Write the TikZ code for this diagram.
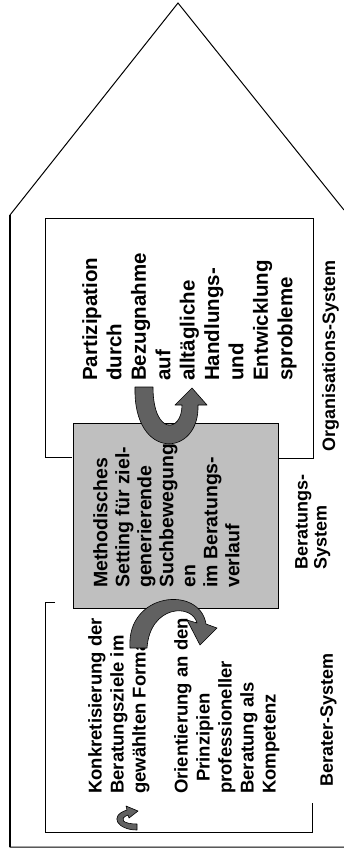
\documentclass[tikz,border=0pt]{standalone}
\usepackage{fontspec}
\setmainfont{Liberation Sans}
\tikzset{
  uptext/.style 2 args={rotate=90, anchor=north west, align=left, inner sep=0pt,
    font=\bfseries\fontsize{#1}{#2}\selectfont},
  frame/.style={draw, line width=1pt},
  bend arrow/.style={fill=black!62, draw=black, line width=0.6pt, line join=round}
}
\begin{document}
\begin{tikzpicture}[x=1pt, y=-1pt]
    \useasboundingbox (0,0) rectangle (344,852);
    % the house
    \draw[line width=1pt] (344,210) -- (178,3) -- (10,215) -- (10,847) -- (344,847);
    \draw[line width=1.4pt] (10,215) -- (10,847);
    % the three systems
    \draw[frame] (72,457) -- (45,457) -- (45,218) -- (313,218) -- (313,458) -- (278,458);
    \draw[frame] (55,602) -- (45,602) -- (45,832) -- (312,832) -- (312,803);
    \node[draw, fill=black!25, line width=1pt, minimum width=205pt, minimum height=185pt,
      inner sep=0pt] (setting) at (175.5,515.5) {};
    % texts
    \node[uptext={20.5}{24.4}] (partizipation) at (82,381)
      {Partizipation\\durch\\Bezugnahme\\auf\\alltägliche\\Handlungs-\\und\\Entwicklung\\sprobleme};
    \node[uptext={19.5}{22}] (suchbewegung) at (93,588)
      {Methodisches\\Setting für ziel-\\generierende\\Suchbewegung\\en\\im Beratungs-\\verlauf};
    \node[uptext={18.5}{22}] (ziele) at (88,794)
      {Konkretisierung der\\Beratungsziele im\\gewählten Format};
    \node[uptext={18.5}{22}] (prinzipien) at (174,794)
      {Orientierung an den\\\hspace*{12pt}Prinzipien\\professioneller\\Beratung als\\Kompetenz};
    \node[uptext={18}{19}] (berater) at (320,787) {Berater-System};
    \node[uptext={18}{19}] (beratung) at (295,570) {Beratungs-\\System};
    \node[uptext={18}{19}] (organisation) at (322,452) {Organisations-System};
    % the curved arrows
    \filldraw[bend arrow] (135,387) .. controls (133,462) and (200,457) .. (198,405)
      -- (207,405) -- (192,388) -- (175,405) -- (182,405)
      .. controls (182,433) and (153,436) .. (153,387) -- cycle;
    \filldraw[bend arrow] (130,648) .. controls (126,592) and (200,585) .. (206,624)
      -- (217,628) -- (200,645) -- (187,620) -- (197,623)
      .. controls (192,603) and (150,605) .. (147,648) -- cycle;
    \filldraw[bend arrow] (137,830) .. controls (118,830) and (108,816) .. (127,810)
      -- (126,806) -- (138,811) -- (129,818) -- (128,815)
      .. controls (118,819) and (123,824) .. (137,824) -- cycle;
\end{tikzpicture}
\end{document}
